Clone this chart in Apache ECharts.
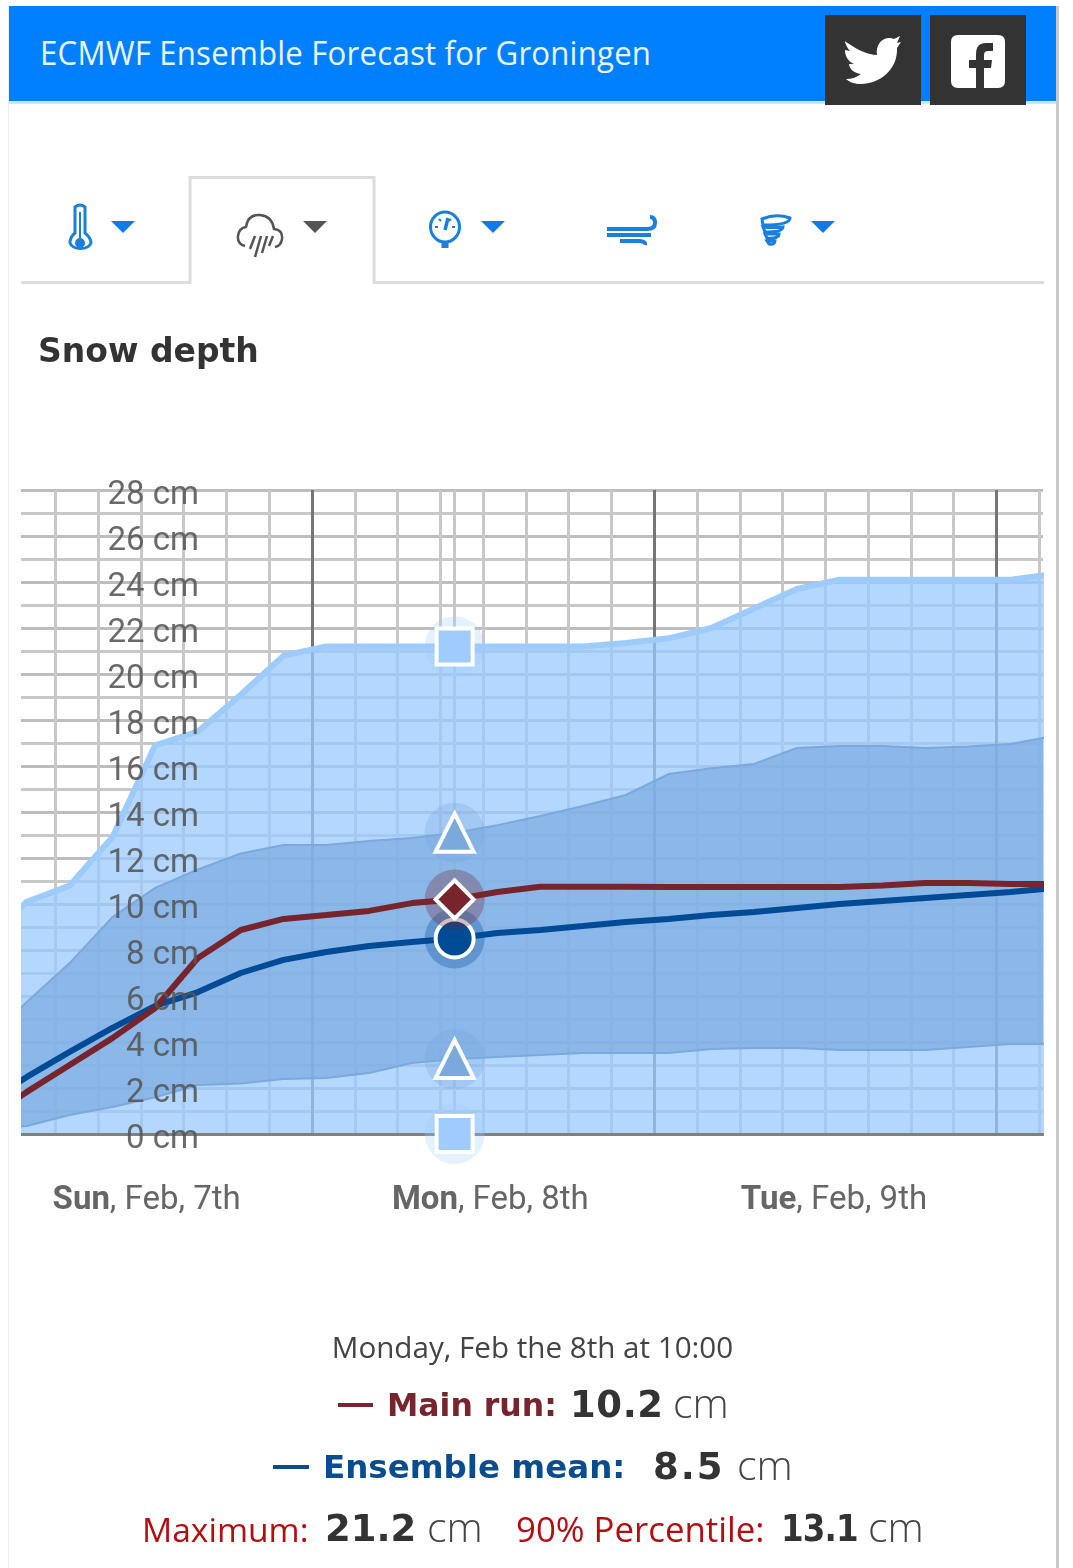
<!DOCTYPE html>
<html><head><meta charset="utf-8">
<script src="https://cdn.jsdelivr.net/npm/echarts@6/dist/echarts.min.js"></script>
<style>
html,body{margin:0;padding:0;background:#fff;width:1073px;height:1568px;overflow:hidden}
#chart{position:absolute;left:0;top:0;width:1073px;height:1568px}
.abs{position:absolute}
.row{position:absolute;left:0;width:1073px;white-space:nowrap;font-family:"Open Sans",sans-serif}
.row span{position:absolute;top:0;line-height:44px;height:44px}
.lab{font-family:"DejaVu Sans",sans-serif;font-weight:700}
.num{font-family:"DejaVu Sans",sans-serif;font-weight:700;font-size:37px;color:#333}
.row span.unit{font-family:"Open Sans",sans-serif;font-size:41px;color:#444;font-weight:300;top:-3px}
.red{font-family:"Open Sans",sans-serif;color:#b30f12}
</style></head><body>
<div id="chart"></div>
<div class="abs" style="left:9px;top:480px;width:12px;height:660px;background:#fff"></div>
<div class="abs" style="left:1044px;top:480px;width:12px;height:660px;background:#fff"></div>
<div class="abs" style="left:8px;top:6px;width:1px;height:1562px;background:#eee"></div>
<div class="abs" style="left:1056px;top:6px;width:3px;height:1562px;background:#c9c9c9"></div>
<div class="abs" style="left:9px;top:6px;width:1047px;height:95px;background:#007fff"></div>
<div class="abs" style="left:9px;top:101px;width:1047px;height:3px;background:#d3e3ef"></div>
<div class="abs" style="left:40px;top:31px;color:#e8f6ff;font:400 32px/44px 'Open Sans',sans-serif;letter-spacing:.2px;transform:scaleX(.975);transform-origin:left center;white-space:nowrap">ECMWF Ensemble Forecast for Groningen</div>
<div class="abs" style="left:825px;top:15px;width:96px;height:90px;background:#333"></div>
<div class="abs" style="left:930px;top:15px;width:96px;height:90px;background:#333"></div>
<svg class="abs" style="left:0;top:0" width="1073" height="300">
 <path d="M846 42c12 8 22 13 31 13c-2-12 8-20 17-16l6-3l-3 7l4-1l-4 6c1 22-18 36-36 36c-6 0-12-2-15-5c6 0 11-2 15-5c-8-1-12-6-12-10h5c-7-3-9-9-9-14l5 1c-5-6-6-12-4-9z" fill="#fff"/>
 <path d="M958 35h40q7 0 7 7v39q0 7-7 7h-14v-20h7l1-8h-8v-5q0-4 4-4h5v-8h-7q-10 0-10 11v6h-7v8h7v20h-18q-7 0-7-7v-39q0-7 7-7z" fill="#fff"/>
 <path d="M21 282.500H190V177.500H374V282.500H1044" fill="none" stroke="#dcdcdc" stroke-width="3"/>
 <g fill="#0d7be8"><path d="M111 221h24l-12 12z"/><path d="M481 221h24l-12 12z"/><path d="M811 221h24l-12 12z"/></g>
 <path d="M303 221h24l-12 12z" fill="#555"/>
 <g fill="none" stroke="#1b7fdc" stroke-width="3">
  <path d="M75 207q5-4 10 0v26q6 5 6 10a11 8 0 0 1-21 0q0-6 5-10z"/>
  <path d="M80 212v28" stroke-width="2"/><circle cx="80" cy="243" r="3.500" fill="#1b7fdc"/>
  <ellipse cx="445" cy="227" rx="14.500" ry="15"/><path d="M445 241v7" stroke-width="7"/><path d="M445 230l3-12" stroke-width="3.500"/><path d="M435 227h3M452 227h3M439 219l2 2M451 219l-2 2" stroke-width="2"/>
  <path d="M607 229h40q8 0 8-6t-5-6M607 235h44M620 241h18q8 0 7 4" stroke-width="4"/>
  <path d="M762 219q14-6 28-1q0 7-27 7zM763 227q12 1 20 0q0 5-18 5zM765 234h14q0 5-12 4zM767 241h8q0 4-6 3z" stroke-width="3"/>
 </g>
 <g fill="none" stroke="#555" stroke-width="2.500"><path d="M245 246q-8-2-7-10t8-9q2-13 14-12t14 14q9 1 8 10q-1 7-7 8"/><path d="M255 236l-5 13M261 236l-6 21M267 236l-5 17M273 236l-4 10"/></g>
</svg>

<div class="abs" style="left:0;top:1325px;width:1065px;text-align:center;color:#444;font:400 29.600px/44px 'Open Sans',sans-serif">Monday, Feb the 8th at 10:00</div>
<div class="abs" style="left:338px;top:1403px;width:35px;height:4px;background:#78242c"></div>
<div class="abs" style="left:273px;top:1465px;width:36px;height:4px;background:#0a4d8f"></div>
<div class="row" style="top:1383px">
 <span class="lab" style="left:387px;color:#78242c;font-size:31.500px">Main run:</span>
 <span class="num" style="left:570px;letter-spacing:.6px">10.2</span>
 <span class="unit" style="left:673px">cm</span>
</div>
<div class="row" style="top:1445px">
 <span class="lab" style="left:323px;color:#0a4d8f;font-size:32.500px">Ensemble mean:</span>
 <span class="num" style="left:653px;letter-spacing:2px">8.5</span>
 <span class="unit" style="left:737px">cm</span>
</div>
<div class="row" style="top:1507px">
 <span class="red" style="left:142px;font-size:33.600px">Maximum:</span>
 <span class="num" style="left:325px">21.2</span>
 <span class="unit" style="left:427px">cm</span>
 <span class="red" style="left:516px;font-size:34.800px">90% Percentile:</span>
 <span class="num" style="left:781px;letter-spacing:-1px;transform:scaleX(.88);transform-origin:left center">13.1</span>
 <span class="unit" style="left:868px">cm</span>
</div>
<script>
const hours=[1,4,7,10,13,16,19,22,25,28,31,34,37,40,43,46,49,52,55,58,61,64,67,70,73,76];
const maximum=[8.3,10.1,10.8,12.9,16.9,17.5,19.1,20.8,21.2,21.2,21.2,21.2,21.2,21.2,21.2,21.35,21.55,22.0,22.85,23.7,24.1,24.1,24.1,24.1,24.1,24.35];
const p90=[3.9,5.74,7.43,9.43,10.7,11.5,12.2,12.57,12.57,12.74,12.87,13.1,13.43,13.83,14.26,14.74,15.65,15.9,16.09,16.78,16.87,16.87,16.78,16.85,16.96,17.3];
const p10=[0.2,0.35,0.83,1.17,1.6,2.13,2.2,2.39,2.43,2.65,3.09,3.26,3.35,3.43,3.52,3.52,3.52,3.7,3.74,3.74,3.65,3.65,3.65,3.78,3.91,3.91];
const mainRun=[0.6,1.83,3.0,4.17,5.48,7.65,8.87,9.35,9.52,9.7,10.04,10.2,10.52,10.75,10.75,10.75,10.74,10.74,10.74,10.74,10.74,10.8,10.91,10.91,10.87,10.87];
const ensembleMean=[1.26,2.48,3.57,4.61,5.57,6.17,7.0,7.57,7.91,8.17,8.35,8.5,8.74,8.87,9.04,9.22,9.35,9.52,9.65,9.83,10.0,10.13,10.26,10.39,10.52,10.7];
const minimumAtCursor=0;
const cursorHour=34;
const lightGridHours=[6,9,12,15,18,21,27,30,33,36,39,42,45,51,54,57,60,63,66,69,75];
const dayGridHours=[24,48,72];
const dayLabelHours=[12.4,36.5,60.6];
const dayLabels=['{b|Sun}, Feb, 7th','{b|Mon}, Feb, 8th','{b|Tue}, Feb, 9th'];

const i=hours.indexOf(cursorHour);
const pair=a=>hours.map((h,k)=>[h,a[k]]);
const vLine=(h,c,w)=>({xAxis:h,lineStyle:{color:c,width:w,type:'solid'}});
const marker=(y,sym,size,col,haloAlpha,z)=>[
 {type:'scatter',clip:false,silent:true,z:z,symbol:'circle',symbolSize:60,data:[[cursorHour,y]],itemStyle:{color:col,opacity:haloAlpha}},
 {type:'scatter',clip:false,silent:true,z:z+1,symbol:sym,symbolSize:size,data:[[cursorHour,y]],itemStyle:{color:col,borderColor:'#fff',borderWidth:4,opacity:1}}
];
const bandCol='#7ba9dc';
const chart=echarts.init(document.getElementById('chart'),null,{renderer:'canvas'});
chart.setOption({
 animation:false,
 title:{text:'Snow depth',left:33,top:332,textStyle:{fontFamily:'DejaVu Sans',fontWeight:'bold',fontSize:33,color:'#333'}},
 grid:{left:21,top:490,width:1022,height:644,containLabel:false},
 xAxis:{type:'value',min:3.59,max:75.26,z:6,
  axisLine:{show:true,onZero:false,lineStyle:{color:'#808080',width:3}},
  axisTick:{show:false},splitLine:{show:false},
  axisLabel:{customValues:dayLabelHours,margin:50,color:'#666',fontFamily:'Roboto',fontSize:33,
   formatter:v=>dayLabels[dayLabelHours.indexOf(v)],
   rich:{b:{fontFamily:'Roboto',fontWeight:'bold',fontSize:33,color:'#666'}}}},
 yAxis:[
  {type:'value',position:'left',min:0,max:28,interval:2,z:0,axisLine:{show:false},axisTick:{show:false},axisLabel:{show:false},
   splitLine:{show:true,lineStyle:{color:'#bdbdbd',width:3}},
   minorTick:{show:false,splitNumber:2},minorSplitLine:{show:true,lineStyle:{color:'#c8c8c8',width:3}}},
  {type:'value',position:'left',min:0,max:28,interval:2,z:10,axisLine:{show:false},axisTick:{show:false},splitLine:{show:false},
   axisLabel:{inside:true,align:'right',verticalAlign:'top',lineHeight:12,margin:178,formatter:'{value} cm',color:'rgba(85,85,85,.88)',fontFamily:'Roboto',fontSize:33}}
 ],
 series:[
  {type:'line',z:1,silent:true,data:[],markLine:{silent:true,z:1,symbol:'none',label:{show:false},animation:false,
    data:[...lightGridHours.map(h=>vLine(h,'#c8c8c8',3)),...dayGridHours.map(h=>vLine(h,'#757575',3)),vLine(cursorHour,'#c8c8c8',3)]}},
  {name:'Maximum',type:'line',z:2,symbol:'none',data:pair(maximum),lineStyle:{color:'#9ccbfc',width:6},areaStyle:{color:'rgba(154,202,255,.75)',opacity:1,origin:'start'}},
  {name:'band',type:'custom',z:3,silent:true,clip:true,data:pair(p90),
   renderItem:(params,api)=>{
    if(params.dataIndex!==0) return null;
    const top=hours.map((h,k)=>api.coord([h,p90[k]]));
    const low=hours.map((h,k)=>api.coord([h,p10[k]])).reverse();
    return {type:'polygon',shape:{points:top.concat(low)},style:{fill:'rgba(122,170,224,.7)',stroke:null}};
   }},
  {name:'p90 edge',type:'line',z:3,symbol:'none',data:pair(p90),lineStyle:{color:bandCol,width:2}},
  {name:'p10 edge',type:'line',z:3,symbol:'none',data:pair(p10),lineStyle:{color:bandCol,width:2}},
  {name:'Ensemble mean',type:'line',z:4,symbol:'none',data:pair(ensembleMean),lineStyle:{color:'#004b96',width:6}},
  {name:'Main run',type:'line',z:5,symbol:'none',data:pair(mainRun),lineStyle:{color:'#78242c',width:6}},
  ...marker(maximum[i],'rect',36,'#9fcbff',.28,7),
  ...marker(minimumAtCursor,'rect',36,'#9fcbff',.28,7),
  ...marker(p90[i],'triangle',38,'#7ba9dc',.3,7),
  ...marker(p10[i],'triangle',38,'#7ba9dc',.3,7),
  ...marker(ensembleMean[i],'circle',38,'#004b96',.3,7),
  ...marker(mainRun[i],'diamond',38,'#78242c',.3,8)
 ]
});
</script>
</body></html>
